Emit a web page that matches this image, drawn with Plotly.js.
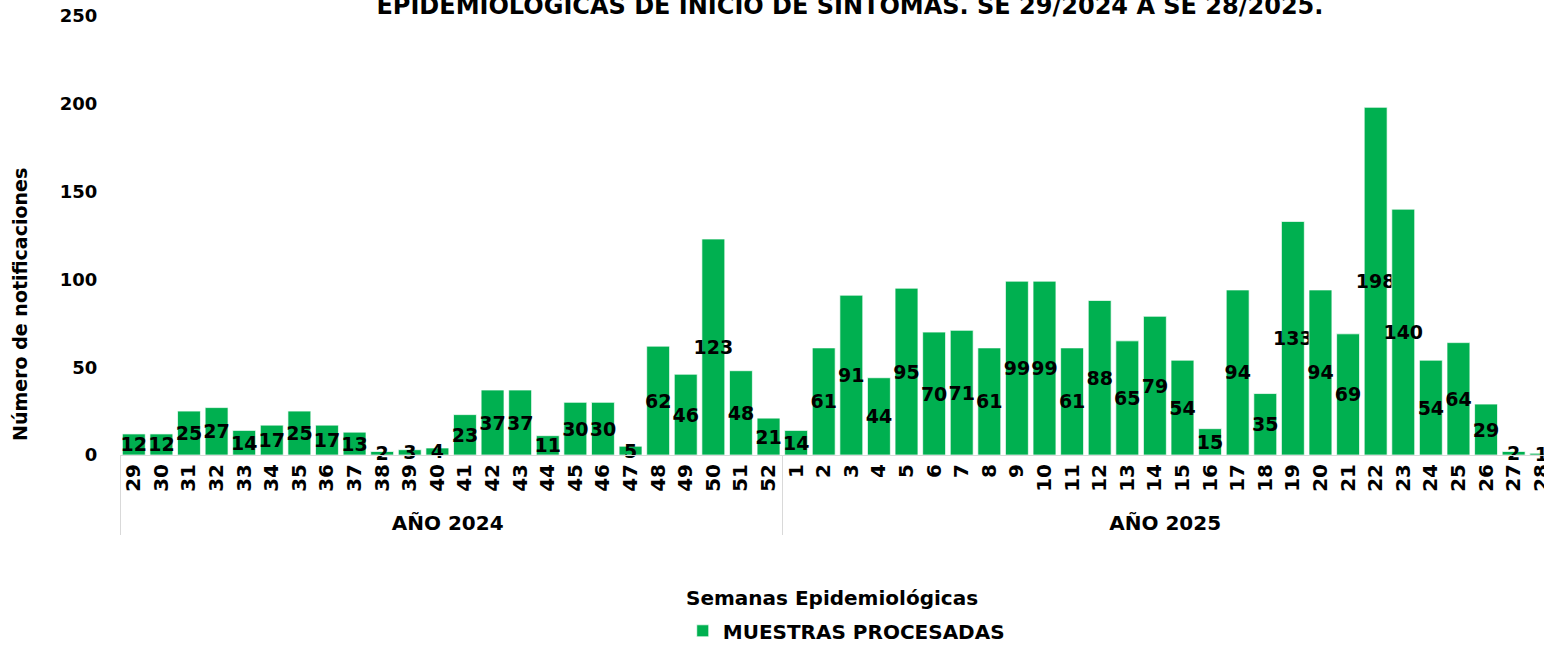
<!DOCTYPE html>
<html>
<head>
<meta charset="utf-8">
<script src="https://cdn.plot.ly/plotly-3.0.1.min.js"></script>
<style>html,body{margin:0;padding:0;background:#fff;}#chart{width:1544px;height:645px;}</style>
</head>
<body>
<div id="chart"></div>
<script>
const years = ["AÑO 2024", "AÑO 2025"];
const weeks2024 = ["29","30","31","32","33","34","35","36","37","38","39","40","41","42","43","44","45","46","47","48","49","50","51","52"];
const weeks2025 = ["1","2","3","4","5","6","7","8","9","10","11","12","13","14","15","16","17","18","19","20","21","22","23","24","25","26","27","28"];
const values2024 = [12,12,25,27,14,17,25,17,13,2,3,4,23,37,37,11,30,30,5,62,46,123,48,21];
const values2025 = [14,61,91,44,95,70,71,61,99,99,61,88,65,79,54,15,94,35,133,94,69,198,140,54,64,29,2,1];
const seriesName = "MUESTRAS PROCESADAS";
const titleText = "EPIDEMIOLÓGICAS DE INICIO DE SÍNTOMAS. SE 29/2024 A SE 28/2025.";
const xTitle = "Semanas Epidemiológicas";
const yTitle = "Número de notificaciones";

const yearLevel = weeks2024.map(() => years[0]).concat(weeks2025.map(() => years[1]));
const weekLevel = weeks2024.concat(weeks2025);
const values = values2024.concat(values2025);

const FONT = "DejaVu Sans, sans-serif";
const GREEN = "#00B050";

const trace = {
  type: "bar",
  name: seriesName,
  x: [yearLevel, weekLevel],
  y: values,
  marker: {color: GREEN, line: {color: "rgba(255,255,255,0.7)", width: 1}},
  text: values.map(String),
  textposition: "inside",
  insidetextanchor: "middle",
  constraintext: "none",
  textangle: 0,
  textfont: {family: FONT, size: 19, color: "#000", weight: "bold"},
  cliponaxis: false,
  showlegend: true
};

const layout = {
  width: 1544, height: 645,
  paper_bgcolor: "#fff", plot_bgcolor: "rgba(0,0,0,0)",
  margin: {l: 120, r: 0, t: 16, b: 190},
  bargap: 0.17,
  font: {family: FONT, color: "#000"},
  title: {
    text: titleText,
    font: {family: FONT, size: 24, color: "#000", weight: "bold"},
    x: 0.5126, xref: "paper", xanchor: "center",
    y: 0.992, yref: "container", yanchor: "middle"
  },
  xaxis: {
    type: "multicategory",
    automargin: false,
    range: [-0.5, 51.1],
    tickangle: -90,
    tickfont: {family: FONT, size: 20, color: "#000", weight: "bold"},
    showline: true, linecolor: "#d9d9d9", linewidth: 1,
    showgrid: false, zeroline: false,
    ticks: "", showdividers: true, dividercolor: "#d9d9d9", dividerwidth: 1
  },
  yaxis: {
    automargin: false,
    range: [0, 250],
    tickvals: [0, 50, 100, 150, 200, 250],
    tickfont: {family: FONT, size: 18, color: "#000", weight: "bold"},
    showgrid: false, zeroline: false, showline: false,
    ticks: "outside", ticklen: 18, tickcolor: "rgba(0,0,0,0)"
  },
  legend: {
    orientation: "h", x: 0.51, xanchor: "center",
    yref: "container", y: 0.022, yanchor: "middle",
    font: {family: FONT, size: 20, color: "#000", weight: "bold"},
    itemwidth: 30, tracegroupgap: 0
  },
  annotations: [{
    text: xTitle, xref: "paper", yref: "paper", x: 0.5, y: -0.326,
    xanchor: "center", yanchor: "middle", showarrow: false,
    font: {family: FONT, size: 20, color: "#000", weight: "bold"}
  }, {
    text: yTitle, xref: "paper", yref: "paper", x: -0.0702, y: 0.342,
    xanchor: "center", yanchor: "middle", showarrow: false, textangle: -90,
    font: {family: FONT, size: 19, color: "#000", weight: "bold"}
  }]
};

Plotly.newPlot("chart", [trace], layout, {displayModeBar: false, responsive: false});
</script>
</body>
</html>
